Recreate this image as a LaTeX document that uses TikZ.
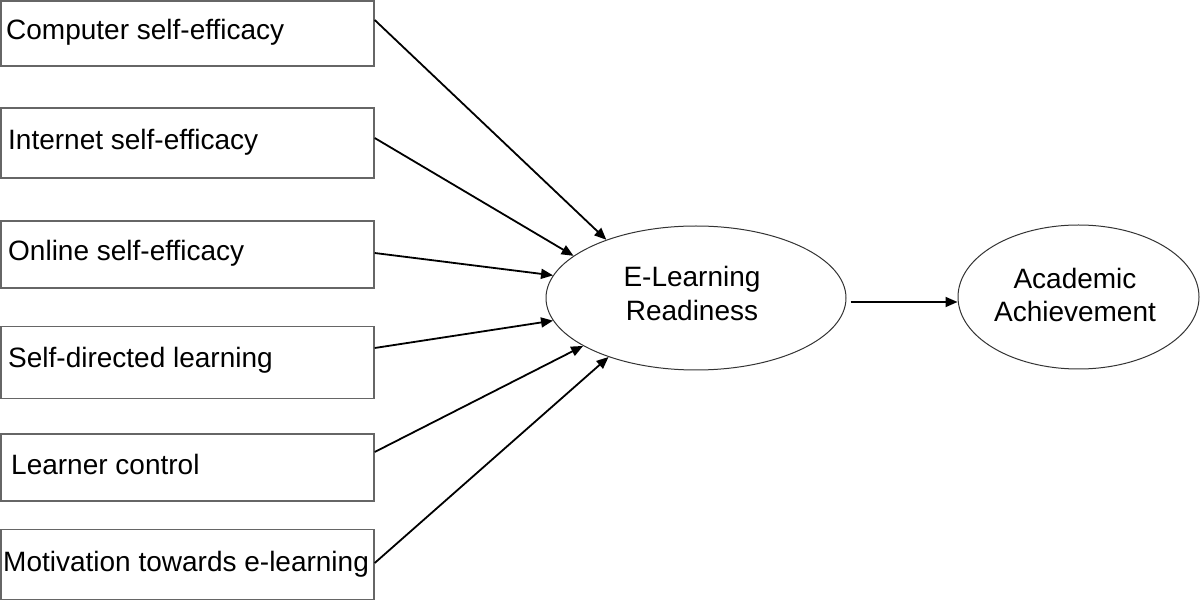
\documentclass[tikz,border=0pt]{standalone}
\usepackage{fontspec}
\setmainfont{Liberation Sans}
\usetikzlibrary{arrows.meta,shapes.geometric}
\begin{document}
\begin{tikzpicture}[x=1pt,y=-1pt,
  box/.style={draw=black!60, line width=1.4pt, minimum width=373pt, inner sep=0pt},
  lbl/.style={anchor=base west, inner sep=0pt, font=\fontsize{28}{33}\selectfont},
  ell/.style={ellipse, draw=black!80, line width=1pt, inner sep=0pt},
  etext/.style={align=center, inner sep=0pt, font=\fontsize{28}{33.5}\selectfont},
  arr/.style={-{Triangle[length=12pt,width=10pt]}, line width=1.8pt, black}]
\useasboundingbox (0,0) rectangle (1200,601);
% boxes
\node[box, minimum height=65pt] (b1) at (187.5,33.5) {};
\node[box, minimum height=70pt] (b2) at (187.5,143) {};
\node[box, minimum height=67pt] (b3) at (187.5,254.5) {};
\node[box, minimum height=72pt] (b4) at (187.5,362.5) {};
\node[box, minimum height=67pt] (b5) at (187.5,467.5) {};
\node[box, minimum height=70pt] (b6) at (187.5,564.5) {};
\node[lbl] (t1) at (6,40) {Computer self-efficacy};
\node[lbl] (t2) at (8,150) {Internet self-efficacy};
\node[lbl] (t3) at (8,260.5) {Online self-efficacy};
\node[lbl] (t4) at (8,368) {Self-directed learning};
\node[lbl] (t5) at (11,475) {Learner control};
\node[lbl] (t6) at (3,571.5) {Motivation towards e-learning};
% ellipses
\node[ell, minimum width=300pt, minimum height=144pt] (e1) at (696,298) {};
\node[etext] (et1) at (692,293.5) {E-Learning\\Readiness};
\node[ell, minimum width=241pt, minimum height=144pt] (e2) at (1078.5,297) {};
\node[etext] (et2) at (1075,295) {Academic\\Achievement};
% arrows
\draw[arr] ([yshift=13.5pt]b1.east) -- (e1.147.5);
\draw[arr] ([yshift=5pt]b2.east) -- (e1.161.2);
\draw[arr] ([yshift=1.5pt]b3.east) -- (e1.171.8);
\draw[arr] ([yshift=14.5pt]b4.east) -- (e1.189);
\draw[arr] ([yshift=15.5pt]b5.east) -- (e1.203.9);
\draw[arr] ([yshift=1.5pt]b6.east) -- (e1.214.9);
\draw[arr] ([xshift=4pt,yshift=-4pt]e1.east) -- ([yshift=-5pt]e2.west);
\end{tikzpicture}
\end{document}
